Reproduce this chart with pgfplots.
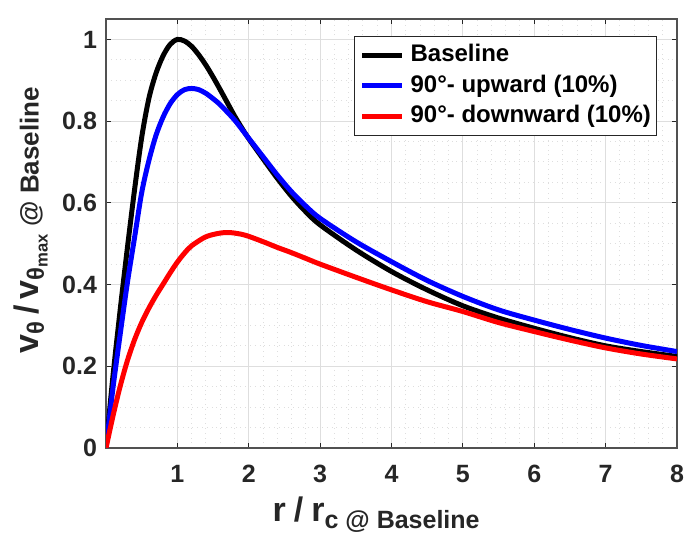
\documentclass[border=0pt]{standalone}
\usepackage{fontspec}
\setmainfont{Liberation Sans}
\usepackage{pgfplots}
\pgfplotsset{compat=1.18}
\definecolor{axcol}{RGB}{38,38,38}
\definecolor{gridcol}{RGB}{222,222,222}
\begin{document}
\begin{tikzpicture}
\useasboundingbox (-53pt,-48pt) rectangle (289.5pt,224pt);
\begin{axis}[
  at={(0,0)}, anchor=south west,
  scale only axis, width=285.5pt, height=214.5pt,
  xmin=0, xmax=8, ymin=0, ymax=1.05,
  xtick={1,2,3,4,5,6,7,8},
  xticklabels={1,2,3,4,5,6,7,8},
  ytick={0,0.2,0.4,0.6,0.8,1},
  yticklabels={0,0.2,0.4,0.6,0.8,1},
  minor x tick num=4, minor y tick num=3,
  grid=both,
  major grid style={draw=gridcol, line width=0.5pt},
  minor grid style={draw=gridcol, dotted, line width=0.5pt},
  tick align=inside, major tick length=2.5pt, minor tick length=0pt,
  axis line style={draw=axcol!80, line width=0.6pt},
  every tick/.style={draw=axcol, line width=0.6pt},
  tick label style={font=\bfseries\fontsize{12.5}{14}\selectfont, text=axcol},
  xticklabel style={yshift=-5pt},
  yticklabel style={xshift=-1pt},
  xlabel={\bfseries\fontsize{17}{19}\selectfont r\hspace{4pt}/\hspace{4pt}r\textsubscript{\fontsize{12.5}{14}\selectfont c @ Baseline}},
  ylabel={\bfseries\fontsize{17}{19}\selectfont v\textsubscript{θ}\hspace{3pt}/\hspace{3pt}v\textsubscript{θ\textsubscript{max}}\,{\fontsize{13}{15}\selectfont @ Baseline}},
  xlabel style={text=axcol, at={(axis description cs:0.474,-0.1725)}, anchor=base},
  ylabel style={text=axcol, at={(axis description cs:-0.118,0.531)}, anchor=base},
  legend style={at={(1,1)}, anchor=north east, xshift=-10pt, yshift=-8.5pt,
    draw=axcol, line width=0.5pt, fill=white,
    font=\bfseries\fontsize{12}{14}\selectfont,
    inner xsep=2.8pt, inner ysep=3.5pt, row sep=3.5pt, column sep=2.8pt,
    nodes={inner sep=0pt, text height=9pt, text depth=2.8pt}},
  legend cell align=left,
  legend image code/.code={\draw[#1, line width=2.5pt] (0pt,0pt) -- (20pt,0pt);},
]
\addplot[black, line width=2.5pt, smooth] coordinates {
(0,0) (0.1,0.18) (0.2,0.34) (0.3,0.49) (0.4,0.632) (0.5,0.76) (0.6,0.855) (0.7,0.917) (0.8,0.96) (0.9,0.988) (1.0,1.0) (1.1,0.996) (1.2,0.983) (1.3,0.962) (1.4,0.937) (1.5,0.908) (1.6,0.877) (1.7,0.845) (1.8,0.813) (1.9,0.784) (2.0,0.757) (2.2,0.708) (2.4,0.660) (2.6,0.616) (2.8,0.578) (3.0,0.546) (3.5,0.485) (4.0,0.432) (4.5,0.387) (5.0,0.348) (5.5,0.318) (6.0,0.293) (6.5,0.27) (7.0,0.25) (7.5,0.236) (8.0,0.224)
};
\addlegendentry{Baseline}
\addplot[blue, line width=2.5pt, smooth] coordinates {
(0,0) (0.1,0.15) (0.2,0.28) (0.3,0.405) (0.4,0.515) (0.5,0.625) (0.6,0.703) (0.7,0.765) (0.8,0.81) (0.9,0.843) (1.0,0.865) (1.1,0.877) (1.2,0.88) (1.3,0.877) (1.4,0.868) (1.5,0.855) (1.6,0.84) (1.8,0.803) (2.0,0.758) (2.2,0.713) (2.4,0.668) (2.6,0.627) (2.8,0.592) (3.0,0.562) (3.5,0.505) (4.0,0.456) (4.5,0.41) (5.0,0.371) (5.5,0.338) (6.0,0.313) (6.5,0.29) (7.0,0.269) (7.5,0.251) (8.0,0.236)
};
\addlegendentry{90°- upward (10\%)}
\addplot[red, line width=2.5pt, smooth] coordinates {
(0,0) (0.1,0.08) (0.2,0.152) (0.3,0.214) (0.4,0.265) (0.5,0.307) (0.6,0.342) (0.7,0.373) (0.8,0.401) (0.9,0.429) (1.0,0.455) (1.1,0.477) (1.2,0.495) (1.4,0.517) (1.6,0.526) (1.75,0.527) (1.9,0.523) (2.0,0.518) (2.2,0.505) (2.4,0.491) (2.6,0.478) (2.8,0.464) (3.0,0.45) (3.5,0.418) (4.0,0.387) (4.5,0.358) (5.0,0.334) (5.5,0.307) (6.0,0.285) (6.5,0.264) (7.0,0.245) (7.5,0.23) (8.0,0.218)
};
\addlegendentry{90°- downward (10\%)}
\end{axis}
\end{tikzpicture}
\end{document}
